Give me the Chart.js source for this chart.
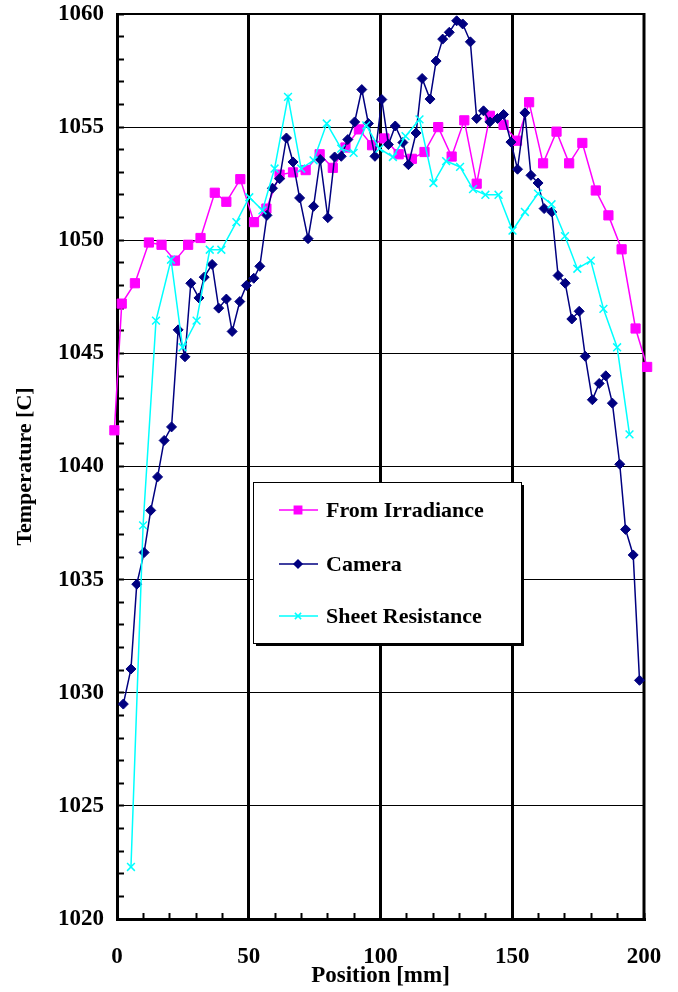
<!DOCTYPE html>
<html>
<head>
<meta charset="utf-8">
<script src="https://cdn.jsdelivr.net/npm/chart.js@4.4.0/dist/chart.umd.min.js"></script>
<style>
  html, body { margin: 0; padding: 0; background: #fff; }
  #wrap { width: 678px; height: 992px; }
</style>
</head>
<body>
<div id="wrap"><canvas id="chart" width="678" height="992"></canvas></div>
<script>
// values
const irrX = [-1, 1.8, 6.8, 12.1, 16.9, 22.0, 27.0, 31.7, 37.1, 41.5, 46.8, 52.0, 56.7, 61.7, 66.8, 71.6, 76.9, 81.9, 86.7, 91.8, 96.8,
  101.5, 106.9, 111.9, 116.7, 121.9, 127.0, 131.8, 136.5, 141.5, 146.7, 151.8, 156.4, 161.7, 166.8, 171.6, 176.6, 181.7, 186.5, 191.5, 196.8, 201.2, 206];
const irrY = [1041.6, 1047.2, 1048.1, 1049.9, 1049.8, 1049.1, 1049.8, 1050.1, 1052.1, 1051.7, 1052.7, 1050.8, 1051.4, 1052.9, 1053.0, 1053.1, 1053.8, 1053.2, 1054.1, 1054.9, 1054.2,
  1054.5, 1053.8, 1053.6, 1053.9, 1055.0, 1053.7, 1055.3, 1052.5, 1055.5, 1055.1, 1054.4, 1056.1, 1053.4, 1054.8, 1053.4, 1054.3, 1052.2, 1051.1, 1049.6, 1046.1, 1044.4, 1039.7];

const camX = [2.4, 5.3, 7.5, 10.3, 12.8, 15.4, 17.9, 20.7, 23.2, 25.8, 28.0, 31.1, 33.1, 36.1, 38.6, 41.5, 43.7, 46.6, 49.1, 51.9,
  54.2, 56.9, 59.0, 61.7, 64.3, 66.8, 69.3, 72.5, 74.6, 77.1, 80.0, 82.6, 85.1, 87.6, 90.2, 92.9, 95.4, 97.9, 100.5, 103.0,
  105.6, 108.5, 110.6, 113.5, 115.8, 118.8, 121.1, 123.6, 126.1, 128.9, 131.2, 134.1, 136.5, 139.1, 141.5, 144.4, 146.7, 149.5, 152.0, 154.8,
  157.1, 159.8, 162.1, 165.0, 167.4, 170.1, 172.6, 175.4, 177.7, 180.4, 183.0, 185.5, 188.0, 190.8, 193.0, 195.9, 198.3];
const camY = [1029.5, 1031.05, 1034.8, 1036.2, 1038.06, 1039.54, 1041.15, 1041.75, 1046.04, 1044.85, 1048.1, 1047.45, 1048.37, 1048.93, 1047.0, 1047.4, 1045.97, 1047.29, 1048.0, 1048.32,
  1048.85, 1051.1, 1052.3, 1052.72, 1054.52, 1053.46, 1051.87, 1050.07, 1051.5, 1053.57, 1051.0, 1053.68, 1053.71, 1054.45, 1055.23, 1056.66, 1055.16, 1053.71, 1056.22, 1054.23,
  1055.05, 1054.32, 1053.34, 1054.74, 1057.15, 1056.24, 1057.92, 1058.89, 1059.19, 1059.7, 1059.56, 1058.77, 1055.38, 1055.72, 1055.23, 1055.38, 1055.56, 1054.34, 1053.14, 1055.63,
  1052.87, 1052.53, 1051.4, 1051.25, 1048.44, 1048.1, 1046.52, 1046.86, 1044.87, 1042.95, 1043.67, 1044.01, 1042.8, 1040.1, 1037.22, 1036.09, 1030.55];

const sheetX = [5.3, 9.9, 14.8, 20.5, 24.9, 30.2, 35.2, 39.6, 45.3, 50.2, 55.2, 59.8, 64.9, 69.9, 74.6, 79.6, 85.1, 89.8, 94.6, 99.6,
  104.7, 109.5, 114.8, 120.1, 124.9, 130.2, 135.1, 139.8, 144.8, 150.1, 154.8, 159.8, 164.9, 170.0, 174.7, 179.8, 184.6, 189.8, 194.5];
const sheetY = [1022.3, 1037.4, 1046.45, 1049.14, 1045.27, 1046.45, 1049.58, 1049.58, 1050.8, 1051.9, 1051.32, 1053.17, 1056.34, 1053.17, 1053.53, 1055.16, 1054.05, 1053.86, 1055.08, 1054.05,
  1053.68, 1054.6, 1055.34, 1052.53, 1053.5, 1053.24, 1052.26, 1052.01, 1052.01, 1050.43, 1051.25, 1052.06, 1051.59, 1050.18, 1048.74, 1049.1, 1046.97, 1045.27, 1041.42];

const xMajor = [50, 100, 150];

function toPoints(xs, ys) {
  return xs.map((x, i) => ({ x: x, y: ys[i] }));
}

const serif = "'Liberation Serif', 'Times New Roman', serif";
const labelFont = { family: serif, size: 23, weight: 'bold' };

// top and right edges of the plot box
const framePlugin = {
  id: 'frame',
  beforeDatasetsDraw(chart) {
    const { ctx, chartArea: a } = chart;
    ctx.save();
    ctx.strokeStyle = '#000';
    ctx.lineWidth = 2;
    ctx.beginPath();
    ctx.moveTo(a.left, a.top);
    ctx.lineTo(a.right, a.top);
    ctx.stroke();
    ctx.lineWidth = 3;
    ctx.beginPath();
    ctx.moveTo(a.right, a.top - 1);
    ctx.lineTo(a.right, a.bottom);
    ctx.stroke();
    ctx.restore();
  }
};

// boxed legend inside the plot, with a drop shadow
const legendBox = {
  id: 'legendBox',
  afterDraw(chart) {
    const { ctx, chartArea: a } = chart;
    const x = a.left + 136, y = a.top + 468, w = 268, h = 161;
    ctx.save();
    ctx.fillStyle = '#000';
    ctx.fillRect(x + 3, y + 3, w, h);
    ctx.fillStyle = '#fff';
    ctx.fillRect(x, y, w, h);
    ctx.strokeStyle = '#000';
    ctx.lineWidth = 1;
    ctx.strokeRect(x + 0.5, y + 0.5, w, h);

    const rows = [28, 82, 134];
    chart.data.datasets.forEach((ds, i) => {
      const ry = y + rows[i];
      ctx.strokeStyle = ds.borderColor;
      ctx.fillStyle = ds.backgroundColor;
      ctx.lineWidth = 1.5;
      ctx.beginPath();
      ctx.moveTo(x + 26, ry);
      ctx.lineTo(x + 65, ry);
      ctx.stroke();
      Chart.helpers.drawPoint(ctx, {
        pointStyle: ds.pointStyle,
        radius: ds.pointRadius * 0.8,
        rotation: 0,
        borderWidth: ds.pointBorderWidth
      }, x + 45, ry);
      ctx.fillStyle = '#000';
      ctx.font = 'bold 22px ' + serif;
      ctx.textBaseline = 'middle';
      ctx.textAlign = 'left';
      ctx.fillText(ds.label, x + 73, ry + 1);
    });
    ctx.restore();
  }
};

new Chart(document.getElementById('chart'), {
  type: 'line',
  data: {
    datasets: [
      {
        label: 'From Irradiance',
        data: toPoints(irrX, irrY),
        borderColor: '#ff00ff',
        backgroundColor: '#ff00ff',
        borderWidth: 1.5,
        pointStyle: 'rect',
        pointRadius: 6.5,
        pointBorderWidth: 1,
        tension: 0,
        clip: { left: 10, right: 9, top: 0, bottom: 0 },
        order: 3
      },
      {
        label: 'Camera',
        data: toPoints(camX, camY),
        borderColor: '#000080',
        backgroundColor: '#000080',
        borderWidth: 1.5,
        pointStyle: 'rectRot',
        pointRadius: 5,
        pointBorderWidth: 1,
        tension: 0,
        clip: { left: 10, right: 9, top: 0, bottom: 0 },
        order: 2
      },
      {
        label: 'Sheet Resistance',
        data: toPoints(sheetX, sheetY),
        borderColor: '#00ffff',
        backgroundColor: '#00ffff',
        borderWidth: 1.5,
        pointStyle: 'crossRot',
        pointRadius: 5.5,
        pointBorderWidth: 1.5,
        tension: 0,
        clip: { left: 10, right: 9, top: 0, bottom: 0 },
        order: 1
      }
    ]
  },
  options: {
    responsive: false,
    animation: false,
    layout: { padding: { top: 14, right: 34, left: 0, bottom: 0 } },
    plugins: {
      legend: { display: false },
      tooltip: { enabled: false }
    },
    scales: {
      x: {
        type: 'linear',
        min: 0,
        max: 200,
        ticks: {
          stepSize: 10,
          autoSkip: false,
          maxRotation: 0,
          padding: 30,
          color: '#000',
          font: labelFont,
          callback: v => (v % 50 === 0 ? v : '')
        },
        grid: {
          color: c => (c.tick && xMajor.includes(c.tick.value) ? '#000' : 'rgba(0,0,0,0)'),
          lineWidth: 3,
          tickColor: '#000',
          tickWidth: 2,
          tickLength: -6
        },
        border: { display: true, color: '#000', width: 3 },
        title: {
          display: true,
          text: 'Position [mm]',
          color: '#000',
          font: labelFont,
          padding: { top: 0, bottom: 2 }
        },
        afterFit: s => {
          s.height = 73;
          s.paddingLeft = 0;
          s.paddingRight = 0;
        }
      },
      y: {
        min: 1020,
        max: 1060,
        ticks: {
          stepSize: 1,
          autoSkip: false,
          padding: 20,
          color: '#000',
          font: labelFont,
          callback: v => (v % 5 === 0 ? String(v) : '')
        },
        grid: {
          color: c => (c.tick && c.tick.value % 5 === 0 && c.tick.value > 1020 && c.tick.value < 1060 ? '#000' : 'rgba(0,0,0,0)'),
          lineWidth: 1,
          tickColor: '#000',
          tickWidth: 2,
          tickLength: -7
        },
        border: { display: true, color: '#000', width: 3 },
        title: {
          display: true,
          text: 'Temperature [C]',
          color: '#000',
          font: { family: serif, size: 22, weight: 'bold' },
          padding: { top: 12, bottom: 0 }
        },
        afterFit: s => {
          s.width = 117;
          s.paddingTop = 0;
          s.paddingBottom = 0;
        }
      }
    }
  },
  plugins: [framePlugin, legendBox]
});
</script>
</body>
</html>
